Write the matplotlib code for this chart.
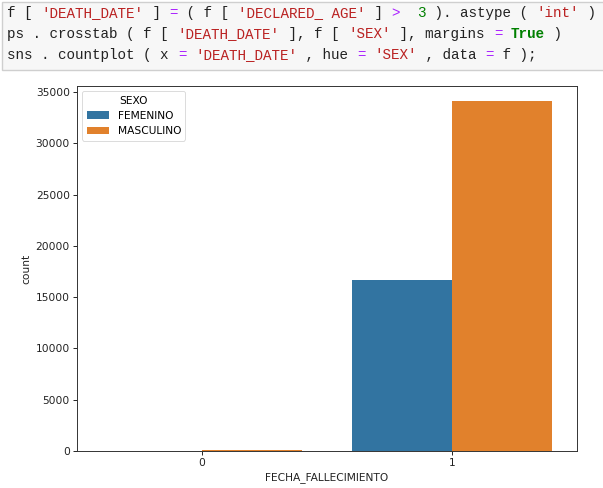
import numpy as np
import matplotlib.pyplot as plt
from matplotlib.patches import Rectangle

# data
categories = ['0', '1']
hue_levels = ['FEMENINO', 'MASCULINO']
counts = {
    'FEMENINO': [20, 16670],
    'MASCULINO': [110, 34120],
}
colors = {'FEMENINO': '#3274a1', 'MASCULINO': '#e1812c'}

# notebook cell shown above the plot: (text, colour, bold)
RED = '#ba2121'
PUR = '#aa22ff'
GRN = '#008000'
BLK = '#222222'
code_lines = [
    [("f [ ", BLK, False), ("'DEATH_DATE'", RED, False), (" ] ", BLK, False), ("=", PUR, False),
     (" ( f [ ", BLK, False), ("'DECLARED_ AGE'", RED, False), (" ] ", BLK, False), (">", PUR, False),
     ("  ", BLK, False), ("3", GRN, False), (" ). astype ( ", BLK, False), ("'int'", RED, False),
     (" )", BLK, False)],
    [("ps . crosstab ( f [ ", BLK, False), ("'DEATH_DATE'", RED, False), (" ], f [ ", BLK, False),
     ("'SEX'", RED, False), (" ], margins ", BLK, False), ("=", PUR, False), (" ", BLK, False),
     ("True", GRN, True), (" )", BLK, False)],
    [("sns . countplot ( x ", BLK, False), ("=", PUR, False), (" ", BLK, False), ("'DEATH_DATE'", RED, False),
     (" , hue ", BLK, False), ("=", PUR, False), (" ", BLK, False), ("'SEX'", RED, False),
     (" , data ", BLK, False), ("=", PUR, False), (" f );", BLK, False)],
]

W, H, DPI = 603, 488, 100
fig = plt.figure(figsize=(W / DPI, H / DPI), dpi=DPI)

# code cell box
fig.patches.append(Rectangle((2 / W, 1 - 70 / H), 1.0, 68 / H, transform=fig.transFigure,
                             facecolor='#f7f7f7', edgecolor='#cfcfcf', lw=1.0))
fs_code = 10.25
cw = 0.6 * fs_code * DPI / 72 / W
line_y = [13, 34, 55]
for ln, y in zip(code_lines, line_y):
    i = 0
    for txt, col, bold in ln:
        fig.text(7 / W + i * cw, 1 - y / H, txt, color=col, fontsize=fs_code,
                 family='Liberation Mono', fontweight='bold' if bold else 'normal',
                 va='center', ha='left')
        i += len(txt)

# countplot
ax = fig.add_axes([77 / W, 1 - 451 / H, 500 / W, 365 / H])
x = np.arange(len(categories))
width = 0.8 / len(hue_levels)
for k, lvl in enumerate(hue_levels):
    ax.bar(x - 0.4 + width * (k + 0.5), counts[lvl], width=width, color=colors[lvl], label=lvl)

fs = 7.7
ax.set_xlim(-0.5, len(categories) - 0.5)
ax.set_ylim(0, 35585)
ax.set_xticks(x)
ax.set_xticklabels(categories)
ax.set_yticks(np.arange(0, 35001, 5000))
ax.set_xlabel('FECHA_FALLECIMIENTO', fontsize=fs, labelpad=3, color='#222222')
ax.set_ylabel('count', fontsize=fs, labelpad=3, color='#222222')
ax.tick_params(labelsize=fs, length=2.6, width=0.6, pad=2.5, labelcolor='#222222')
for s in ax.spines.values():
    s.set_linewidth(0.7)
    s.set_color('#333333')

leg = ax.legend(title='SEXO', loc='upper left', fontsize=fs, title_fontsize=fs,
                frameon=True, borderaxespad=0.5, handlelength=2.1)
leg.get_frame().set_linewidth(0.6)

fig.savefig('out.png', dpi=DPI)
